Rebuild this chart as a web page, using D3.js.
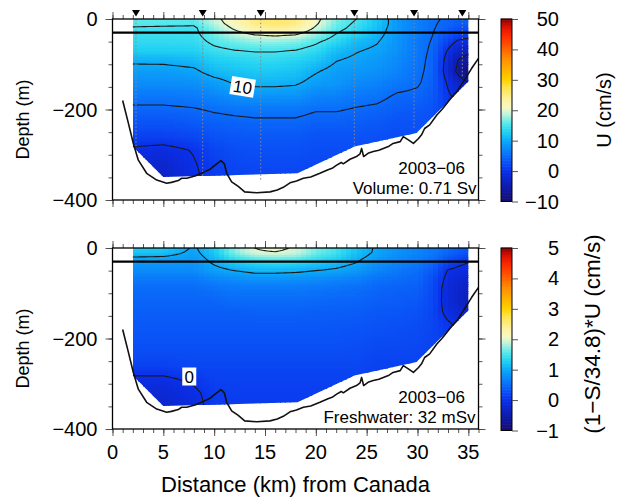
<!DOCTYPE html>
<html>
<head>
<meta charset="utf-8">
<script src="https://cdn.jsdelivr.net/npm/d3@7"></script>
<style>
  body { margin: 0; background: #fff; }
  svg { display: block; }
  text { font-family: "Liberation Sans", Arial, Helvetica, sans-serif; fill: #000; }
</style>
</head>
<body>
<svg id="chart" width="630" height="498"></svg>
<script>
// ---- section grid (distance in km, depth in m) ----
const gridKm = [2, 5, 8, 10, 12, 14, 16, 18, 20, 22, 24, 26, 28, 30, 31.5, 33, 34, 35];
const gridDepth = [0, 10, 20, 35, 50, 70, 90, 115, 140, 170, 200, 230, 260, 290, 320, 350];

// along-strait velocity U (cm/s), one row per depth level
const velocityRows = [
  [16, 16, 16, 19, 22, 25.5, 26.5, 25.5, 21, 17, 15, 12, 8.5, 6.5, 5.5, 4.5, 4, 4],
  [15.6, 15.6, 15.5, 18.5, 21.5, 25, 26, 25, 20.5, 16.5, 14.5, 12, 8.5, 6.5, 5.3, 4.3, 3.8, 3.5],
  [14.8, 14.6, 14.5, 17.5, 20.5, 23.5, 24.5, 23.5, 19.5, 16, 14, 11.5, 8.5, 6.5, 5.2, 4, 3, 2.5],
  [14.3, 14.3, 14.3, 16.5, 18.5, 20, 20.5, 20, 17.5, 14.8, 13, 10.8, 8.5, 6.3, 5, 3, 1.5, 1],
  [13.8, 13.8, 13.9, 15.6, 16.6, 17.5, 17.5, 17, 15.5, 13.6, 11.2, 10.2, 8.3, 6, 4.8, 1.5, -0.5, -1],
  [12.8, 12.8, 13, 14.3, 14.9, 15.2, 15.2, 14.9, 13.8, 11.5, 10.2, 9.5, 8, 6, 4.5, -0.3, -3, -4],
  [10.6, 10.7, 11.2, 12.8, 13.3, 13.8, 13.8, 13.3, 12.2, 10.2, 9.4, 8.7, 7.5, 5.8, 4.3, -1.5, -5, -6.5],
  [9, 9, 9.5, 11.2, 11.8, 12.3, 12.3, 11.8, 10.3, 9, 8.5, 8, 7, 5.5, 4.3, -2, -6, -9.5],
  [7.8, 7.8, 8, 9, 10.3, 10.8, 10.8, 10.5, 9, 8.5, 7.5, 7, 6, 5.3, 4, -0.5, -3, -5],
  [6, 6, 6.3, 7, 8, 8.3, 8.3, 8.2, 7, 6.8, 6, 5.7, 4.7, 4.5, 3.5, 0.5, -1, -2],
  [4.5, 4.5, 4.8, 5.3, 5.6, 5.8, 5.8, 5.8, 5.2, 5.2, 4.8, 4.5, 3.8, 3.5, 3, 1, 0, -1],
  [3, 3, 3.5, 4, 4.3, 4.5, 4.5, 4.5, 4, 4, 3.8, 3.5, 3, 3, 2.5, 1, 0, -1],
  [1.5, 1.5, 2, 3, 3.3, 3.5, 3.5, 3.5, 3, 3, 3, 2.8, 2.5, 2.5, 2.2, 1, 0, -1],
  [-0.5, -1, 0.2, 1.8, 2.5, 2.8, 2.8, 2.8, 2.5, 2.5, 2.5, 2.5, 2.2, 2.2, 2, 1, 0, -1],
  [-1.5, -2.5, -0.2, 1.2, 2, 2.2, 2.2, 2.2, 2, 2, 2, 2, 2, 2, 2, 1, 0, -1],
  [-2, -3, -0.5, 1, 1.5, 1.8, 1.8, 1.8, 1.8, 1.8, 1.8, 1.8, 1.8, 1.8, 1.8, 1, 0, -1]
];

// freshwater velocity (1-S/34.8)*U (cm/s), one row per depth level
const freshwaterRows = [
  [1.3, 1.3, 0.95, 1.25, 1.75, 2.0, 2.1, 1.95, 1.7, 1.5, 1.2, 0.95, 0.8, 0.7, 0.6, 0.5, 0.4, 0.35],
  [1.18, 1.15, 0.92, 1.2, 1.7, 1.95, 1.98, 1.9, 1.65, 1.45, 1.15, 0.95, 0.8, 0.7, 0.6, 0.45, 0.35, 0.3],
  [1.0, 0.98, 0.88, 1.12, 1.5, 1.7, 1.75, 1.7, 1.5, 1.35, 1.08, 0.9, 0.75, 0.65, 0.55, 0.35, 0.25, 0.15],
  [0.85, 0.85, 0.82, 1.02, 1.2, 1.3, 1.35, 1.3, 1.2, 1.1, 0.98, 0.8, 0.7, 0.6, 0.45, 0.15, 0.05, -0.02],
  [0.75, 0.75, 0.75, 0.9, 1.0, 1.08, 1.08, 1.06, 1.0, 0.95, 0.85, 0.7, 0.6, 0.5, 0.35, -0.02, -0.08, -0.12],
  [0.6, 0.6, 0.6, 0.7, 0.75, 0.8, 0.8, 0.78, 0.75, 0.7, 0.65, 0.55, 0.5, 0.45, 0.25, -0.1, -0.2, -0.25],
  [0.5, 0.5, 0.5, 0.55, 0.6, 0.6, 0.6, 0.6, 0.58, 0.55, 0.52, 0.45, 0.42, 0.4, 0.22, -0.15, -0.25, -0.35],
  [0.45, 0.45, 0.45, 0.45, 0.5, 0.5, 0.5, 0.5, 0.48, 0.46, 0.45, 0.4, 0.38, 0.35, 0.2, -0.15, -0.3, -0.4],
  [0.4, 0.4, 0.4, 0.4, 0.4, 0.42, 0.42, 0.42, 0.4, 0.4, 0.38, 0.35, 0.33, 0.3, 0.18, -0.1, -0.2, -0.3],
  [0.35, 0.35, 0.35, 0.35, 0.35, 0.35, 0.35, 0.35, 0.35, 0.34, 0.33, 0.3, 0.28, 0.25, 0.18, 0.05, -0.05, -0.15],
  [0.3, 0.3, 0.3, 0.3, 0.3, 0.3, 0.3, 0.3, 0.3, 0.3, 0.28, 0.25, 0.24, 0.22, 0.18, 0.1, 0, -0.1],
  [0.25, 0.25, 0.25, 0.25, 0.25, 0.25, 0.25, 0.25, 0.25, 0.25, 0.24, 0.2, 0.2, 0.2, 0.15, 0.1, 0, -0.1],
  [0.15, 0.15, 0.2, 0.2, 0.2, 0.2, 0.2, 0.2, 0.2, 0.2, 0.2, 0.15, 0.15, 0.15, 0.12, 0.1, 0, -0.1],
  [-0.05, -0.05, 0.05, 0.15, 0.15, 0.15, 0.15, 0.15, 0.15, 0.15, 0.15, 0.12, 0.12, 0.12, 0.1, 0.1, 0, -0.1],
  [-0.15, -0.2, -0.05, 0.1, 0.12, 0.12, 0.12, 0.12, 0.12, 0.12, 0.12, 0.1, 0.1, 0.1, 0.1, 0.1, 0, -0.1],
  [-0.2, -0.25, -0.1, 0.1, 0.1, 0.1, 0.1, 0.1, 0.1, 0.1, 0.1, 0.1, 0.1, 0.1, 0.1, 0.1, 0, -0.1]
];

// outline of the gridded section (km, depth m)
const sectionOutline = [[2.0, 0], [2.0, 282], [5.0, 349], [18.2, 341], [23.8, 282], [29.9, 252], [35.0, 138], [35.0, 0]];

// bottom topography along the section (km, depth m)
const bathymetry = [
  [1.0, 180], [1.56, 230], [2.05, 275], [2.54, 312], [3.36, 341], [4.35, 356], [5.33, 363], [5.8, 361],
  [6.47, 357], [6.8, 352], [7.3, 352], [8.1, 347], [8.93, 339], [9.6, 332], [10.25, 320], [10.67, 313],
  [11.0, 320], [11.23, 341], [11.72, 360], [12.37, 370], [13.0, 382], [14.2, 384], [15.5, 382], [16.2, 378],
  [16.8, 372], [17.46, 362], [18.1, 358], [18.77, 352], [19.5, 349], [20.4, 341], [21.2, 333], [21.6, 330],
  [22.05, 323], [22.5, 317], [22.7, 320], [23.36, 310], [24.0, 304], [24.35, 298], [24.5, 286], [24.7, 304],
  [25.2, 296], [25.65, 293], [26.2, 290], [26.64, 286], [27.2, 281], [27.6, 275], [28.3, 271], [28.6, 260],
  [29.1, 267], [29.6, 275], [30.1, 264], [30.4, 256], [30.7, 242], [31.2, 234], [31.9, 212], [32.4, 200],
  [32.9, 186], [33.4, 172], [33.86, 161], [34.5, 139], [35.33, 109], [36.0, 87]
];

// mooring stations (km) and the depth each reaches (m)
const stationKm = [2.31, 8.87, 14.58, 23.79, 29.66, 34.41];
const stationDepth = [282, 348, 356, 282, 245, 127];

// colour table shared by both panels, stops given in U units (cm/s)
const colorStops = [-10, -5, 0, 3, 6, 10, 13, 16, 19, 21, 24, 28, 30, 33, 37, 40, 44, 47, 50];
const colorHex = ["#170c6e", "#0e1cae", "#0a30ea", "#0a52f6", "#0a78fa", "#0caaf8", "#22d2f2", "#5eeaea",
                  "#c8f5dc", "#f8f8c2", "#fff09a", "#ffe141", "#ffd200", "#ffb400", "#ff8c00", "#ff6400",
                  "#ff3200", "#e61400", "#8c0000"];

const velocityTicks = [-10, 0, 10, 20, 30, 40, 50];
const freshwaterTicks = [-1, 0, 1, 2, 3, 4, 5];
const kmTicks = [0, 5, 10, 15, 20, 25, 30, 35];
const depthTicks = [0, -200, -400];
const mixedLayerDepth = 30;

const svg = d3.select("#chart");
const x = d3.scaleLinear().domain([0, 36]).range([112.5, 478.5]);
const colorU = d3.scaleLinear().domain(colorStops).range(colorHex).interpolate(d3.interpolateRgb).clamp(true);
const fmt = d => d < 0 ? "\u2212" + Math.abs(d) : String(d);

// bilinear lookup on the (non-uniform) section grid
function sampler(rows) {
  return (km, z) => {
    km = Math.max(gridKm[0], Math.min(gridKm[gridKm.length - 1], km));
    z = Math.max(gridDepth[0], Math.min(gridDepth[gridDepth.length - 1], z));
    const i = Math.min(gridKm.length - 2, Math.max(0, d3.bisectRight(gridKm, km) - 1));
    const j = Math.min(gridDepth.length - 2, Math.max(0, d3.bisectRight(gridDepth, z) - 1));
    const tx = (km - gridKm[i]) / (gridKm[i + 1] - gridKm[i]);
    const tz = (z - gridDepth[j]) / (gridDepth[j + 1] - gridDepth[j]);
    const a = rows[j][i], b = rows[j][i + 1], c = rows[j + 1][i], d = rows[j + 1][i + 1];
    return (a * (1 - tx) + b * tx) * (1 - tz) + (c * (1 - tx) + d * tx) * tz;
  };
}

const panels = [
  {
    id: "vel", top: 19, bottom: 200, rows: velocityRows, levels: [-5, 0, 5, 10, 15, 20],
    cbDomain: [-10, 50], cbTicks: velocityTicks, cbTitle: "U (cm/s)", cbTitleX: 604, cbTitleY: 110, cbTitleSize: 20,
    toU: v => v, notes: ["2003\u221206", "Volume: 0.71 Sv"], noteEnds: [465, 476.5],
    tag: { text: "10", km: 12.8, depth: 150, angle: 9 }, stations: true, xLabels: false
  },
  {
    id: "fw", top: 248, bottom: 429, rows: freshwaterRows, levels: [0, 1, 2],
    cbDomain: [-1, 5], cbTicks: freshwaterTicks, cbTitle: "(1\u2212S/34.8)*U (cm/s)", cbTitleX: 592, cbTitleY: 334, cbTitleSize: 22.5,
    toU: v => v * 10, notes: ["2003\u221206", "Freshwater: 32 mSv"], noteEnds: [465, 475.5],
    tag: { text: "0", km: 7.55, depth: 284, angle: 0 }, stations: false, xLabels: true
  }
];

panels.forEach(p => {
  const y = d3.scaleLinear().domain([-400, 0]).range([p.bottom, p.top]);
  const yd = z => y(-z);
  const g = svg.append("g");
  const field = sampler(p.rows);

  // clip to the gridded part of the section
  const clipId = "clip-" + p.id;
  svg.append("clipPath").attr("id", clipId)
    .append("path")
    .attr("d", d3.line().x(d => x(d[0])).y(d => yd(d[1]))(sectionOutline) + "Z");

  // colour field cells
  const dk = 0.5, dz = 5;
  const cells = [];
  for (let km = 2.0; km < 35.0; km += dk) {
    for (let z = 0; z < 355; z += dz) {
      cells.push({ km, z, v: field(km + dk / 2, z + dz / 2) });
    }
  }
  g.append("g").attr("clip-path", `url(#${clipId})`)
    .selectAll("rect").data(cells).join("rect")
    .attr("x", d => x(d.km))
    .attr("y", d => yd(d.z))
    .attr("width", d => x(d.km + dk) - x(d.km) + 0.6)
    .attr("height", d => yd(d.z + dz) - yd(d.z) + 0.6)
    .attr("fill", d => colorU(p.toU(d.v)))
    .attr("shape-rendering", "crispEdges");

  // contour lines on a fine resampled grid
  const k0 = 1.5, z0 = -5, sk = 0.25, sz = 2.5;
  const nx = Math.round((35.5 - k0) / sk) + 1, ny = Math.round((385 - z0) / sz) + 1;
  const vals = new Array(nx * ny);
  for (let j = 0; j < ny; j++) for (let i = 0; i < nx; i++) vals[j * nx + i] = field(k0 + i * sk, z0 + j * sz);
  const contours = d3.contours().size([nx, ny]).thresholds(p.levels)(vals);
  const proj = d3.geoTransform({
    point(px, py) { this.stream.point(x(k0 + (px - 0.5) * sk), yd(z0 + (py - 0.5) * sz)); }
  });
  g.append("g").attr("clip-path", `url(#${clipId})`)
    .selectAll("path").data(contours).join("path")
    .attr("d", d3.geoPath(proj))
    .attr("fill", "none")
    .attr("stroke", "#1a1a1a")
    .attr("stroke-width", 1.1)
    .attr("stroke-linejoin", "round");

  // contour label
  const tg = g.append("g")
    .attr("transform", `translate(${x(p.tag.km)},${yd(p.tag.depth)}) rotate(${p.tag.angle})`);
  const tw = p.tag.text.length * 10 + 4;
  tg.append("rect").attr("x", -tw / 2).attr("y", -9).attr("width", tw).attr("height", 18).attr("fill", "#fff");
  tg.append("text").attr("text-anchor", "middle").attr("dy", "0.36em").attr("font-size", 17).text(p.tag.text);

  // stations: dotted lines and markers
  if (p.stations) {
    g.selectAll("line.station").data(stationKm).join("line")
      .attr("x1", d => x(d)).attr("x2", d => x(d))
      .attr("y1", yd(0)).attr("y2", (d, i) => yd(stationDepth[i]))
      .attr("stroke", "#8a8a8a").attr("stroke-width", 1).attr("stroke-dasharray", "1.5,2.2");
    g.selectAll("path.tri").data(stationKm).join("path")
      .attr("d", d => `M${x(d) - 4},${p.top - 9}L${x(d) + 4},${p.top - 9}L${x(d)},${p.top - 2.5}Z`)
      .attr("fill", "#000");
  }

  // bottom topography
  g.append("path")
    .attr("d", d3.line().x(d => x(d[0])).y(d => yd(d[1]))(bathymetry))
    .attr("fill", "none").attr("stroke", "#111").attr("stroke-width", 1.6).attr("stroke-linejoin", "round");

  // mixed-layer reference line
  g.append("line")
    .attr("x1", x(0)).attr("x2", x(36))
    .attr("y1", yd(mixedLayerDepth)).attr("y2", yd(mixedLayerDepth))
    .attr("stroke", "#000").attr("stroke-width", 2.4);

  // axes: minor and major ticks on all four sides
  const tickStyle = sel => {
    sel.select(".domain").remove();
    sel.selectAll("line").attr("stroke", "#444").attr("stroke-width", 0.9);
    sel.selectAll("text").remove();
  };
  const minorKm = d3.range(0, 37, 1), minorZ = d3.range(-400, 1, 50);
  g.append("g").attr("transform", `translate(0,${p.top})`).call(d3.axisTop(x).tickValues(minorKm).tickSize(4)).call(tickStyle);
  g.append("g").attr("transform", `translate(0,${p.top})`).call(d3.axisTop(x).tickValues(kmTicks).tickSize(7)).call(tickStyle);
  g.append("g").attr("transform", `translate(0,${p.bottom})`).call(d3.axisBottom(x).tickValues(minorKm).tickSize(4)).call(tickStyle);
  g.append("g").attr("transform", `translate(0,${p.bottom})`).call(d3.axisBottom(x).tickValues(kmTicks).tickSize(7)).call(tickStyle);
  g.append("g").attr("transform", `translate(${x(0)},0)`).call(d3.axisLeft(y).tickValues(minorZ).tickSize(4)).call(tickStyle);
  g.append("g").attr("transform", `translate(${x(0)},0)`).call(d3.axisLeft(y).tickValues(depthTicks).tickSize(7)).call(tickStyle);
  g.append("g").attr("transform", `translate(${x(36)},0)`).call(d3.axisRight(y).tickValues(minorZ).tickSize(4)).call(tickStyle);
  g.append("g").attr("transform", `translate(${x(36)},0)`).call(d3.axisRight(y).tickValues(depthTicks).tickSize(7)).call(tickStyle);

  // frame
  g.append("rect")
    .attr("x", x(0)).attr("y", p.top).attr("width", x(36) - x(0)).attr("height", p.bottom - p.top)
    .attr("fill", "none").attr("stroke", "#000").attr("stroke-width", 1.3);

  // depth tick labels
  g.selectAll("text.ylab").data(depthTicks).join("text")
    .attr("x", x(0) - 15).attr("y", d => y(d)).attr("dy", "0.35em")
    .attr("text-anchor", "end").attr("font-size", 20).text(fmt);

  g.append("text")
    .attr("transform", `translate(23,${(p.top + p.bottom) / 2 + 10}) rotate(-90)`)
    .attr("text-anchor", "middle").attr("dy", "0.35em").attr("font-size", 18).text("Depth (m)");

  if (p.xLabels) {
    g.selectAll("text.xlab").data(kmTicks).join("text")
      .attr("x", d => x(d)).attr("y", 459)
      .attr("text-anchor", "middle").attr("font-size", 20).text(d => d);
  }

  // annotation
  g.selectAll("text.note").data(p.notes).join("text")
    .attr("x", (d, i) => p.noteEnds[i]).attr("y", (d, i) => p.top + 155 + i * 19.5)
    .attr("text-anchor", "end").attr("font-size", 17).text(d => d);

  // colour bar
  const cb = d3.scaleLinear().domain(p.cbDomain).range([p.bottom + 1.5, p.top]);
  const steps = d3.range(0, 120).map(i => p.cbDomain[0] + (i + 0.5) * (p.cbDomain[1] - p.cbDomain[0]) / 120);
  const stepH = (cb.range()[0] - cb.range()[1]) / 120;
  g.append("g").selectAll("rect").data(steps).join("rect")
    .attr("x", 501).attr("width", 11)
    .attr("y", d => cb(d) - stepH / 2 - 0.3).attr("height", stepH + 0.6)
    .attr("fill", d => colorU(p.toU(d)));
  g.append("rect").attr("x", 501).attr("y", cb.range()[1]).attr("width", 11)
    .attr("height", cb.range()[0] - cb.range()[1])
    .attr("fill", "none").attr("stroke", "#000").attr("stroke-width", 1);
  g.append("g").attr("transform", "translate(512,0)")
    .call(d3.axisRight(cb).tickValues(p.cbTicks).tickSize(6))
    .call(tickStyle);
  g.selectAll("text.cblab").data(p.cbTicks).join("text")
    .attr("x", 559).attr("y", d => cb(d)).attr("dy", "0.35em")
    .attr("text-anchor", "end").attr("font-size", 20).text(fmt);
  g.append("text")
    .attr("transform", `translate(${p.cbTitleX},${p.cbTitleY}) rotate(-90)`)
    .attr("text-anchor", "middle").attr("dy", "0.35em").attr("font-size", p.cbTitleSize).text(p.cbTitle);
});

// shared distance axis title
svg.append("text")
  .attr("x", x(18)).attr("y", 492)
  .attr("text-anchor", "middle").attr("font-size", 22)
  .text("Distance (km) from Canada");
</script>
</body>
</html>
